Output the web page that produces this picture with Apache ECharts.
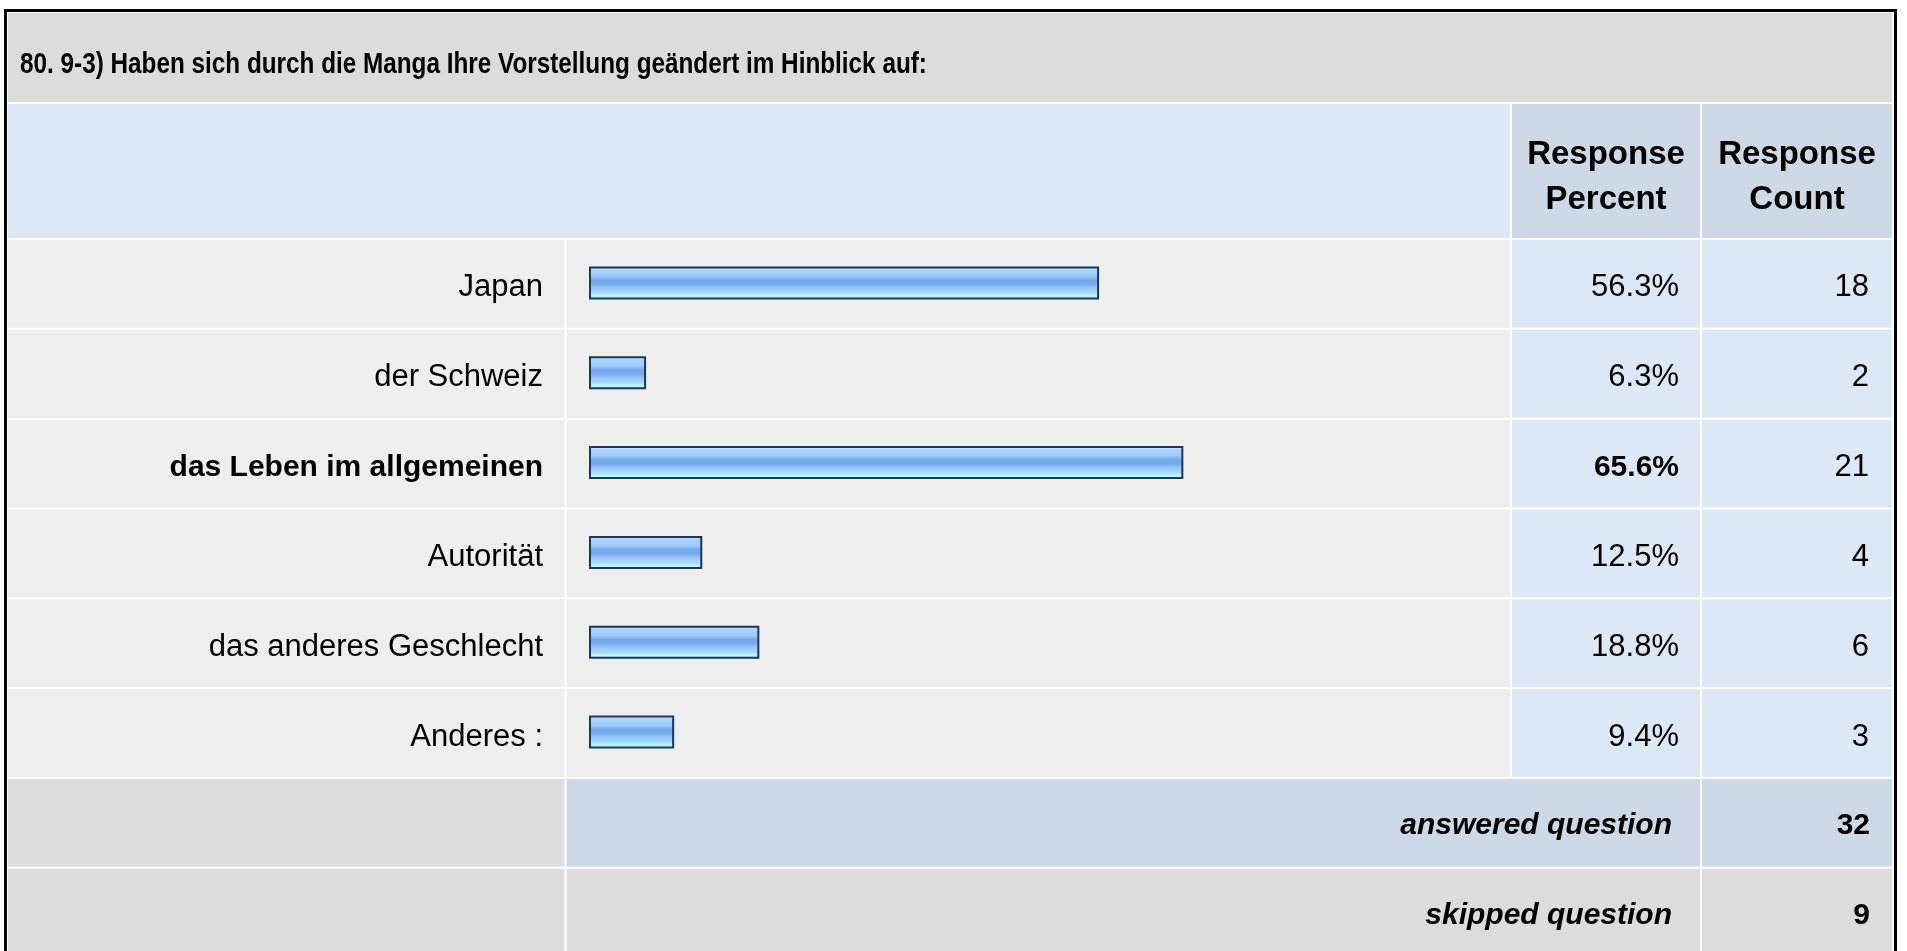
<!DOCTYPE html>
<html>
<head>
<meta charset="utf-8">
<title>Manga Umfrage 9-3</title>
<script src="https://cdn.jsdelivr.net/npm/echarts@6/dist/echarts.min.js"></script>
<style>
  html, body { margin: 0; padding: 0; background: #fff; }
  #chart { width: 1907px; height: 951px; }
</style>
</head>
<body>
<div id="chart"></div>
<script>
// data
const questionTitle = '80. 9-3) Haben sich durch die Manga Ihre Vorstellung geändert im Hinblick auf:';
const categories = ['Japan', 'der Schweiz', 'das Leben im allgemeinen', 'Autorität', 'das anderes Geschlecht', 'Anderes :'];
const responsePercent = [56.3, 6.3, 65.6, 12.5, 18.8, 9.4];
const responseCount = [18, 2, 21, 4, 6, 3];
const headerLabels = ['Response\nPercent', 'Response\nCount'];
const summaryLabels = ['answered question', 'skipped question'];
const summaryCounts = [32, 9];

const FONT = '"Liberation Sans", Arial, sans-serif';

// table layout
const TOP = 238;
const ROW_H = 539 / 6;
const COL_A = [8, 564.5];
const COL_B = [566.5, 1510];
const COL_P = [1512, 1700];
const COL_C = [1702, 1892];

const maxIdx = responsePercent.indexOf(Math.max(...responsePercent));

const cell = (x0, x1, y0, y1, fill) => ({
    type: 'rect', z: -10, silent: true,
    shape: { x: x0, y: y0, width: x1 - x0, height: y1 - y0 },
    style: { fill: fill }
});

const text = (str, x, y, extra, scaleX) => ({
    type: 'text', z: 10, silent: true, x: x, y: y, scaleX: scaleX || 1,
    style: Object.assign({
        text: str, fontFamily: FONT, fontSize: 30, fill: '#000',
        align: 'left', verticalAlign: 'middle'
    }, extra)
});

const graphics = [];
// title + header
graphics.push(cell(8, 1892, 13, 102, '#dcdcdc'));
graphics.push(cell(8, COL_B[1], 104, TOP, '#dce8f5'));
graphics.push(cell(COL_P[0], COL_P[1], 104, TOP, '#cdd9e6'));
graphics.push(cell(COL_C[0], COL_C[1], 104, TOP, '#cdd9e6'));
// data rows
categories.forEach((c, i) => {
    const y0 = TOP + i * ROW_H + 2, y1 = TOP + (i + 1) * ROW_H;
    graphics.push(cell(COL_A[0], COL_A[1], y0, y1, '#eeeeee'));
    graphics.push(cell(COL_B[0], COL_B[1], y0, y1, '#eeeeee'));
    graphics.push(cell(COL_P[0], COL_P[1], y0, y1, '#dce8f5'));
    graphics.push(cell(COL_C[0], COL_C[1], y0, y1, '#dce8f5'));
});
// summary rows
const sumTop = TOP + categories.length * ROW_H;
const sumFills = [['#dcdcdc', '#cdd9e6', '#cdd9e6'], ['#dcdcdc', '#dcdcdc', '#dcdcdc']];
summaryLabels.forEach((s, i) => {
    const y0 = sumTop + i * ROW_H + 2, y1 = i === summaryLabels.length - 1 ? 960 : sumTop + (i + 1) * ROW_H;
    graphics.push(cell(COL_A[0], COL_A[1], y0, y1, sumFills[i][0]));
    graphics.push(cell(COL_B[0], COL_P[1], y0, y1, sumFills[i][1]));
    graphics.push(cell(COL_C[0], COL_C[1], y0, y1, sumFills[i][2]));
    const cy = sumTop + i * ROW_H + ROW_H / 2 + 4;
    graphics.push(text(s, 1672, cy, { align: 'right', fontWeight: 'bold', fontStyle: 'italic' }));
    graphics.push(text(String(summaryCounts[i]), 1870, cy, { align: 'right', fontWeight: 'bold' }));
});
// outer frame
graphics.push({
    type: 'rect', z: 20, silent: true,
    shape: { x: 5.5, y: 10.5, width: 1890, height: 960 },
    style: { fill: 'none', stroke: '#000', lineWidth: 3 }
});
// texts (the title is set in a narrow bold face)
graphics.push(text(questionTitle, 20, 65, { fontWeight: 'bold' }, 0.81));
graphics.push(text(headerLabels[0], (COL_P[0] + COL_P[1]) / 2, 177, { align: 'center', fontWeight: 'bold', fontSize: 33, lineHeight: 45 }));
graphics.push(text(headerLabels[1], (COL_C[0] + COL_C[1]) / 2, 177, { align: 'center', fontWeight: 'bold', fontSize: 33, lineHeight: 45 }));

const boldIfMax = (v, i) => i === maxIdx ? '{b|' + v + '}' : '{n|' + v + '}';
const plain = v => '{n|' + v + '}';
const richText = {
    b: { fontFamily: FONT, fontSize: 30, fontWeight: 'bold', color: '#000' },
    n: { fontFamily: FONT, fontSize: 31, color: '#000' }
};

const barGradient = new echarts.graphic.LinearGradient(0, 0, 0, 1, [
    { offset: 0, color: '#d6ecff' },
    { offset: 0.12, color: '#a8d4ff' },
    { offset: 0.3, color: '#9ccaf9' },
    { offset: 0.42, color: '#74a6ec' },
    { offset: 0.54, color: '#78abef' },
    { offset: 0.66, color: '#96c6f9' },
    { offset: 0.8, color: '#a8d8ff' },
    { offset: 0.88, color: '#b6f6ff' },
    { offset: 1, color: '#b4ffff' }
]);

const hiddenAxis = { axisLine: { show: false }, axisTick: { show: false }, splitLine: { show: false } };
const labelPad = [10, 0, 0, 0];

const chart = echarts.init(document.getElementById('chart'), null, { renderer: 'canvas' });
chart.setOption({
    animation: false,
    backgroundColor: '#fff',
    grid: { left: 589, top: TOP, width: 906, height: categories.length * ROW_H, outerBoundsMode: 'none' },
    xAxis: { type: 'value', min: 0, max: 100, show: false },
    yAxis: [
        Object.assign({
            type: 'category', data: categories, inverse: true, position: 'left',
            axisLabel: { interval: 0, margin: 46, padding: labelPad, fontFamily: FONT, fontSize: 31, color: '#000',
                formatter: boldIfMax, rich: richText }
        }, hiddenAxis),
        Object.assign({
            type: 'category', data: responsePercent.map(p => p.toFixed(1) + '%'), inverse: true, position: 'right',
            axisLabel: { interval: 0, margin: 184, padding: labelPad, align: 'right', fontFamily: FONT, fontSize: 31, color: '#000',
                formatter: boldIfMax, rich: richText }
        }, hiddenAxis),
        Object.assign({
            type: 'category', data: responseCount.map(String), inverse: true, position: 'right',
            axisLabel: { interval: 0, margin: 374, padding: labelPad, align: 'right', fontFamily: FONT, fontSize: 31, color: '#000',
                formatter: plain, rich: richText }
        }, hiddenAxis)
    ],
    series: [{
        type: 'bar',
        yAxisIndex: 0,
        data: responsePercent,
        barWidth: 33,
        itemStyle: { color: barGradient, borderColor: '#1d3658', borderWidth: 2 }
    }],
    graphic: graphics
});
</script>
</body>
</html>
